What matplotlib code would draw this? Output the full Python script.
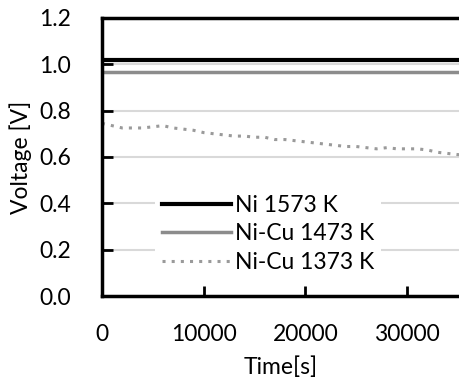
import matplotlib.pyplot as plt

plt.rcParams['font.family'] = ['Lato', 'DejaVu Sans']

# data
t_flat = [0, 36000]
ni_1573 = [1.02, 1.02]
nicu_1473 = [0.968, 0.968]

t_1373 = [0, 1000, 2000, 3000, 4000, 5000, 6000, 7000, 8000, 9000, 10000,
          11000, 12000, 13000, 14000, 15000, 16000, 17000, 18000, 19000,
          20000, 21000, 22000, 23000, 24000, 25000, 26000, 27000, 28000,
          29000, 30000, 31000, 32000, 33000, 34000, 35000, 36000]
nicu_1373 = [0.745, 0.735, 0.725, 0.725, 0.725, 0.73, 0.735, 0.725, 0.72,
             0.715, 0.705, 0.70, 0.695, 0.69, 0.69, 0.685, 0.685, 0.675,
             0.675, 0.67, 0.665, 0.66, 0.655, 0.65, 0.645, 0.645, 0.64,
             0.635, 0.64, 0.635, 0.635, 0.635, 0.63, 0.62, 0.615, 0.61, 0.61]

yticks = [0.0, 0.2, 0.4, 0.6, 0.8, 1.0, 1.2]
xticks = [0, 10000, 20000, 30000]

fig = plt.figure(figsize=(4.59, 3.80), dpi=100)
ax = fig.add_axes([0.222, 0.221, 0.778, 0.732])

for y in yticks[1:-1]:
    ax.axhline(y, color='#d9d9d9', lw=1.5, zorder=0)

ax.plot(t_flat, ni_1573, color='black', lw=3, label='Ni 1573 K')
ax.plot(t_flat, nicu_1473, color='#8c8c8c', lw=2.5, label='Ni-Cu 1473 K')
ax.plot(t_1373, nicu_1373, color='#9a9a9a', lw=2.2, ls=(0, (1, 2)),
        label='Ni-Cu 1373 K')

ax.set_xlim(0, 35100)
ax.set_ylim(0, 1.2)
ax.set_xticks(xticks)
ax.set_yticks(yticks)
ax.set_yticklabels([f'{v:.1f}' for v in yticks])

for side in ['left', 'bottom', 'top']:
    ax.spines[side].set_linewidth(2.5)
    ax.spines[side].set_color('black')
ax.spines['right'].set_visible(False)

fs = 16.5
ax.tick_params(axis='both', direction='in', width=2, labelsize=fs,
               colors='black')
ax.tick_params(axis='y', length=8, pad=22)
ax.tick_params(axis='x', length=7, pad=20)

ax.set_ylabel('Voltage [V]', fontsize=fs)
ax.yaxis.set_label_coords(-0.195, 0.5)
ax.set_xlabel('Time[s]', fontsize=fs, labelpad=8)

leg = ax.legend(loc='lower left', bbox_to_anchor=(0.15, 0.058), fontsize=fs,
                frameon=True, fancybox=False, handlelength=3.0,
                handletextpad=0.15, labelspacing=0.33, borderpad=0.3,
                borderaxespad=0)
leg.get_frame().set_edgecolor('none')
leg.get_frame().set_facecolor('white')
leg.get_frame().set_alpha(1)

fig.savefig('out.png', dpi=100)
